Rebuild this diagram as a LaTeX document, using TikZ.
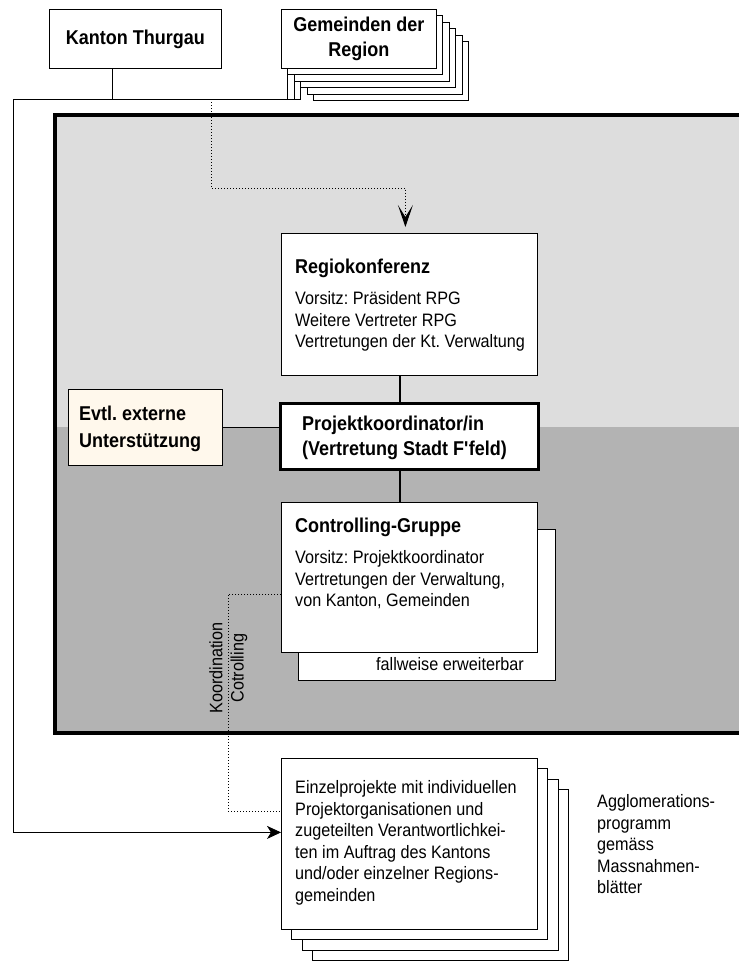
\documentclass[tikz,border=0pt]{standalone}
\usepackage{fontspec}
\setmainfont{Liberation Sans}[FakeStretch=0.9]
\usetikzlibrary{arrows.meta}
\definecolor{feldhell}{RGB}{221,221,221}
\definecolor{felddunkel}{RGB}{179,179,179}
\definecolor{creme}{RGB}{255,248,236}
\newcommand{\titelfont}{\fontsize{20}{25}\selectfont\bfseries}
\newcommand{\fliesstext}{\fontsize{18}{21.5}\selectfont}
\frenchspacing
\begin{document}
\begin{tikzpicture}[x=1pt,y=-1pt,
  kasten/.style={draw,fill=white,line width=0.8pt,inner sep=0pt,anchor=north west},
  beschr/.style={inner sep=0pt,anchor=north west,align=left},
  pfeil/.style={-{Stealth[length=14pt,width=13pt,inset=4pt]}}]
\useasboundingbox (0,0) rectangle (739,961);

% grosses Feld
\fill[feldhell] (55,115) rectangle (739,427);
\fill[felddunkel] (55,427) rectangle (739,733);
\draw[line width=4pt] (739,115) -- (55,115) -- (55,733) -- (739,733);

% oben
\node[kasten,minimum width=172,minimum height=59,font=\titelfont] (kanton) at (49,9) {Kanton Thurgau};
\foreach \i in {5,4,...,1}
  \draw[fill=white,line width=0.8pt] (281+6.5*\i,9+6.5*\i) rectangle ++(155,59);
\foreach \i in {1,2,3}
  \draw[line width=0.8pt] (281+6.5*\i,68+6.5*\i) -- (281+6.5*\i,99);
\node[kasten,minimum width=155,minimum height=59,align=center,font=\titelfont] (gemeinden) at (281,9) {Gemeinden der\\Region};
\coordinate (knick) at (13,99);
\coordinate (kantonfuss) at (112,99);
\coordinate (abzweig) at (211,99);
\coordinate (mitte) at (400,0);

% Regiokonferenz
\node[kasten,minimum width=256,minimum height=142] (regio) at (281,233) {};
\node[beschr,font=\titelfont] (regiotitel) at (295,259) {Regiokonferenz};
\node[beschr,font=\fliesstext] (regiotext) at (295,291.5) {Vorsitz: Pr\"asident RPG\\Weitere Vertreter RPG\\Vertretungen der Kt. Verwaltung};

% Projektkoordination
\node[kasten,line width=3pt,minimum width=258,minimum height=66] (projekt) at (279,402) {};
\node[beschr,font=\titelfont] (projekttext) at (302,416) {Projektkoordinator/in\\(Vertretung Stadt F\textquotesingle feld)};
\node[kasten,fill=creme,minimum width=154,minimum height=76] (evtl) at (68,389) {};
\node[beschr,font=\titelfont] (evtltext) at (79,406) {Evtl. externe\\[2pt]Unterst\"utzung};

% Controlling
\node[kasten,minimum width=257,minimum height=151] (controllingrueck) at (298,529) {};
\node[kasten,minimum width=256,minimum height=150] (controlling) at (281,502) {};
\node[beschr,font=\titelfont] (controllingtitel) at (295,518) {Controlling-Gruppe};
\node[beschr,font=\fliesstext] (controllingtext) at (295,550.5) {Vorsitz: Projektkoordinator\\Vertretungen der Verwaltung,\\von Kanton, Gemeinden};
\node[beschr,font=\fliesstext] (fallweise) at (376,657.5) {fallweise erweiterbar};

% Einzelprojekte
\foreach \i in {3,2,1}
  \draw[fill=white,line width=0.8pt] (281+10.5*\i,758+10.5*\i) rectangle ++(256,171);
\node[kasten,minimum width=256,minimum height=171] (einzel) at (281,758) {};
\node[beschr,font=\fliesstext] (einzeltext) at (295,780.5) {Einzelprojekte mit individuellen\\Projektorganisationen und\\zugeteilten Verantwortlichkei-\\ten im Auftrag des Kantons\\und/oder einzelner Regions-\\gemeinden};
\node[beschr,font=\fliesstext] (agglo) at (597,794.5) {Agglomerations-\\programm\\gem\"ass\\Massnahmen-\\bl\"atter};

% Verbindungen
\draw[line width=0.8pt] (kanton.south -| kantonfuss) -- (kantonfuss);
\draw[line width=0.8pt] (300.5,99) -- (knick);
\draw[line width=0.8pt,pfeil] (knick) |- ([yshift=11.5pt]einzel.west);
\draw[dotted,line width=1pt,-{Stealth[length=22pt,width=15pt,inset=12pt]}] (abzweig) |- ([xshift=-4pt,yshift=45pt]regio.north) -- ([xshift=-4pt,yshift=6pt]regio.north);
\draw[line width=1.6pt] (regio.south -| mitte) -- (projekt.north -| mitte);
\draw[line width=1.6pt] (projekt.south -| mitte) -- (controlling.north -| mitte);
\draw[line width=0.8pt] (evtl.east) -- (evtl.east -| projekt.west);
\draw[dotted,line width=1pt] ([yshift=-17pt]controlling.west) -- ++(-53,0) |- ([yshift=32.5pt]einzel.west);
\node[rotate=90,font=\fliesstext] (koordlabel) at (216,668) {Koordination};
\node[rotate=90,font=\fliesstext] (cotrlabel) at (239,668) {Cotrolling};
\end{tikzpicture}
\end{document}
